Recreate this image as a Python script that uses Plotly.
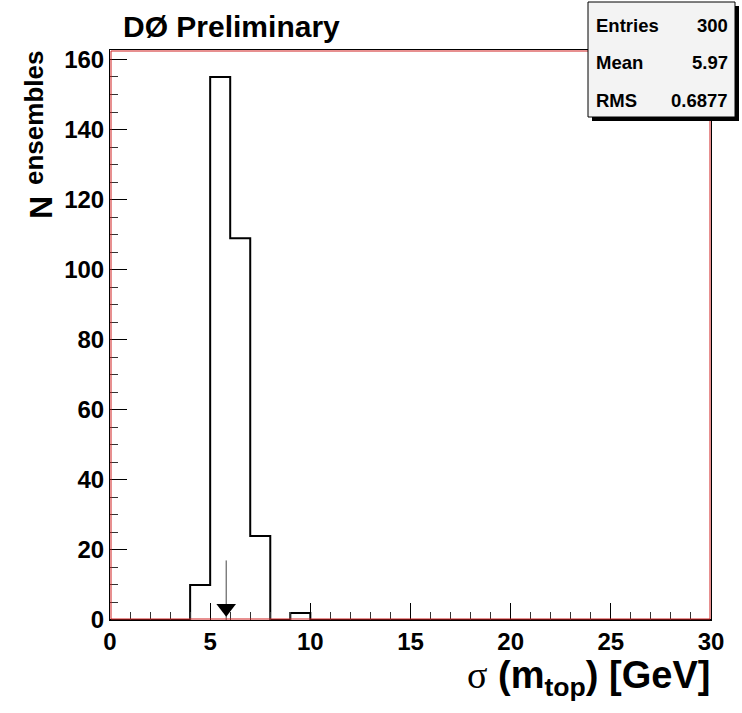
import plotly.graph_objects as go

# ---- data ----
bin_edges = list(range(0, 31))          # 0..30 GeV, 1 GeV bins
counts = [0, 0, 0, 0, 10, 155, 109, 24, 0, 2] + [0] * 20
arrow_x = 5.8
arrow_top = 17
stats_labels = ["Entries", "Mean", "RMS"]
stats_values = ["300", "5.97", "0.6877"]
y_ticks = [0, 20, 40, 60, 80, 100, 120, 140, 160]
x_ticks = [0, 5, 10, 15, 20, 25, 30]

W, H = 742, 713
L, R, T, B = 110, 31, 50, 93
PW, PH = W - L - R, H - T - B
YMAX = 162.7

def px(xp):
    return (xp - L) / PW

def py(yp):
    return (H - B - yp) / PH

FONT = "Liberation Sans, Arial, Helvetica, sans-serif"

# step outline
xs = bin_edges
ys = counts + [counts[-1]]

fig = go.Figure()
fig.add_trace(go.Scatter(x=xs, y=ys, mode="lines", line=dict(shape="hv", color="black", width=2),
                         hoverinfo="skip", showlegend=False))
# arrow
fig.add_trace(go.Scatter(x=[arrow_x, arrow_x], y=[arrow_top, 0], mode="lines",
                         line=dict(color="#444444", width=1), showlegend=False, hoverinfo="skip"))
fig.add_trace(go.Scatter(x=[arrow_x], y=[3.35], mode="markers",
                         marker=dict(symbol="triangle-down", size=17, color="black", line=dict(width=0)),
                         showlegend=False, hoverinfo="skip"))

fig.update_layout(
    width=W, height=H,
    margin=dict(l=L, r=R, t=T, b=B, pad=0),
    paper_bgcolor="white", plot_bgcolor="white",
    font=dict(family=FONT, color="black"),
    xaxis=dict(range=[0, 30], tickvals=x_ticks, ticks="inside", ticklen=17, tickwidth=1, tickcolor="black",
               showline=True, linecolor="black", linewidth=1, mirror=True, showgrid=False, zeroline=False,
               tickfont=dict(size=24, family=FONT, weight="bold"),
               minor=dict(dtick=1, ticks="inside", ticklen=8, tickcolor="#333333", tickwidth=1, showgrid=False)),
    yaxis=dict(range=[0, YMAX], tickvals=y_ticks, ticks="inside", ticklen=17, tickwidth=1, tickcolor="black",
               showline=True, linecolor="black", linewidth=1, mirror=True, showgrid=False, zeroline=False,
               tickfont=dict(size=24, family=FONT, weight="bold"),
               minor=dict(dtick=5, ticks="inside", ticklen=8, tickcolor="#333333", tickwidth=1, showgrid=False)),
)

shapes = []
# red inner frame
shapes.append(dict(type="rect", xref="paper", yref="paper", x0=px(L + 1), x1=px(L + PW - 1),
                   y0=py(H - B - 1), y1=py(T + 1), line=dict(color="#d02020", width=1), layer="above"))
# stats box shadow + box
shapes.append(dict(type="rect", xref="paper", yref="paper", x0=px(592), x1=px(739), y0=py(121), y1=py(6),
                   fillcolor="black", line=dict(width=0), layer="above"))
shapes.append(dict(type="rect", xref="paper", yref="paper", x0=px(588), x1=px(735), y0=py(117), y1=py(2),
                   fillcolor="#f3f3f3", line=dict(color="black", width=1), layer="above"))
fig.update_layout(shapes=shapes)

ann = []
ann.append(dict(text="<b>DØ Preliminary</b>", xref="paper", yref="paper", x=px(121), y=py(26),
                xanchor="left", yanchor="middle", showarrow=False, font=dict(size=30, family=FONT)))
row_y = [25, 63, 101]
for lab, val, yy in zip(stats_labels, stats_values, row_y):
    ann.append(dict(text="<b>%s</b>" % lab, xref="paper", yref="paper", x=px(594), y=py(yy),
                    xanchor="left", yanchor="middle", showarrow=False, font=dict(size=18.5, family=FONT)))
    ann.append(dict(text="<b>%s</b>" % val, xref="paper", yref="paper", x=px(730), y=py(yy),
                    xanchor="right", yanchor="middle", showarrow=False, font=dict(size=18.5, family=FONT)))
# x title
ann.append(dict(text="<span style='font-family:Liberation Serif;font-weight:normal'>σ</span><b> (m<sub>top</sub>) [GeV]</b>",
                xref="paper", yref="paper", x=px(712), y=py(678), xanchor="right", yanchor="middle",
                showarrow=False, font=dict(size=38, family=FONT)))
# y title
ann.append(dict(text="<b>N</b>", xref="paper", yref="paper", x=px(41), y=py(208), xanchor="center",
                yanchor="middle", textangle=-90, showarrow=False, font=dict(size=32, family=FONT)))
ann.append(dict(text="<b>ensembles</b>", xref="paper", yref="paper", x=px(34), y=py(118), xanchor="center",
                yanchor="middle", textangle=-90, showarrow=False, font=dict(size=26, family=FONT)))
fig.update_layout(annotations=ann)

fig.write_html("out.html")
